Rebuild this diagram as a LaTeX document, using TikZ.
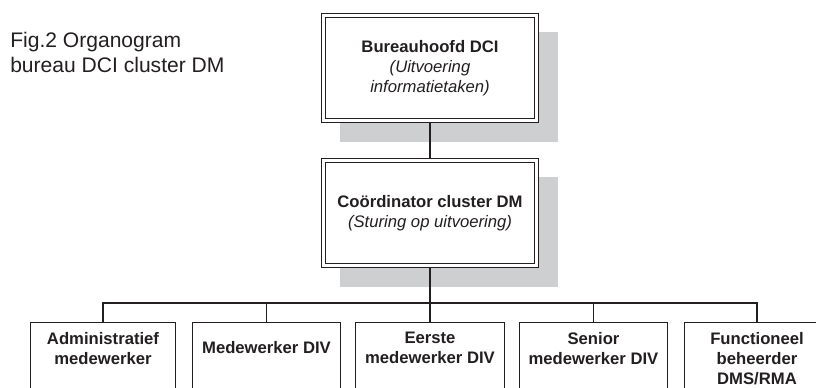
\documentclass[tikz,border=0pt]{standalone}
\usepackage{fontspec}
\setmainfont{Liberation Sans}
\usepackage{tikz}
\usetikzlibrary{backgrounds}

\definecolor{shadowgrey}{RGB}{206,207,209}
\definecolor{ink}{RGB}{35,31,32}

\tikzset{
  headbox/.style={draw=ink, fill=white, double, line width=0.9pt, double distance=2.2pt,
    outer sep=2pt, minimum width=159.5pt, minimum height=78.5pt, align=center, text=ink,
    font=\fontsize{12.5}{15}\selectfont},
  staffbox/.style={draw=ink, fill=white, line width=1pt, minimum width=108.6pt,
    minimum height=75pt, anchor=north, align=center, inner sep=7pt, text depth=55pt,
    text=ink, font=\fontsize{12.5}{15}\selectfont\bfseries},
  link/.style={draw=ink, line width=1pt},
}

\begin{document}
\begin{tikzpicture}[x=0.75pt,y=-0.75pt]
  \path[use as bounding box, clip] (0,0) rectangle (816,387);

  \node[anchor=north west, inner sep=0pt, align=left, text=ink,
    font=\fontsize{15.8}{18.75}\selectfont] (title) at (10,31.6)
    {Fig.2 Organogram\\bureau DCI cluster DM};

  \node[headbox] (bureau) at (430,68)
    {\textbf{Bureauhoofd DCI}\\\textit{(Uitvoering}\\\textit{informatietaken)}};
  \node[headbox] (coord) at (430,213)
    {\textbf{Coördinator cluster DM}\\\textit{(Sturing op uitvoering)}};

  \node[staffbox] (admin) at (103,322) {Administratief\\medewerker};
  \node[staffbox, text height=16pt] (mdiv) at (266.5,322) {Medewerker DIV};
  \node[staffbox] (eerste) at (430,322) {Eerste\\medewerker DIV};
  \node[staffbox] (senior) at (593.5,322) {Senior\\medewerker DIV};
  \node[staffbox] (functie) at (757,322) {Functioneel\\beheerder\\DMS/RMA};

  % shadows
  \begin{scope}[on background layer]
    \fill[shadowgrey] ([shift={(19,19)}]bureau.north west) rectangle ([shift={(19,19)}]bureau.south east);
    \fill[shadowgrey] ([shift={(19,19)}]coord.north west) rectangle ([shift={(19,19)}]coord.south east);
  \end{scope}

  \coordinate (bus) at (430,303);
  \draw[link] (bureau.south) -- (coord.north);
  \draw[link] (coord.south) -- (bus);
  \draw[link] (bus) -| (admin.north);
  \draw[link] (bus) -| (mdiv.north);
  \draw[link] (bus) -- (eerste.north);
  \draw[link] (bus) -| (senior.north);
  \draw[link] (bus) -| (functie.north);

\end{tikzpicture}
\end{document}
